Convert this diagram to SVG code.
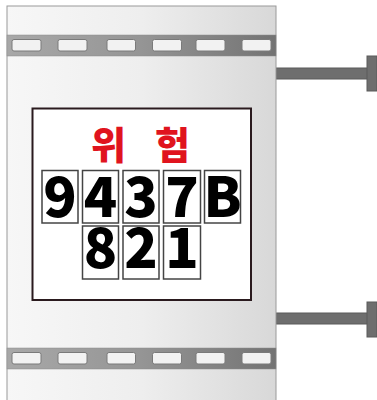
<svg xmlns="http://www.w3.org/2000/svg" width="377" height="400" viewBox="0 0 377 400">
<defs>
<linearGradient id="body" x1="0" y1="0" x2="1" y2="0">
<stop offset="0" stop-color="#f7f7f7"/>
<stop offset="0.5" stop-color="#eeeeee"/>
<stop offset="1" stop-color="#d8d8d8"/>
</linearGradient>
<linearGradient id="band" x1="0" y1="0" x2="1" y2="0">
<stop offset="0" stop-color="#a8a8a8"/>
<stop offset="0.5" stop-color="#959595"/>
<stop offset="1" stop-color="#737373"/>
</linearGradient>
<style>
.hole{fill:#f2f2f2;stroke:#7a7a7a;stroke-width:1}
.bracket{fill:#6e6e6e;stroke:#5a5a5a;stroke-width:1}
.box{fill:#fff;stroke:#444;stroke-width:1.5}
.dig{font-family:"Noto Sans CJK KR","Noto Sans",sans-serif;font-weight:900;font-size:55px;fill:#000;text-anchor:middle}
.warn{font-family:"Noto Sans CJK KR",sans-serif;font-weight:900;font-size:38px;fill:#e0141e;text-anchor:middle}
</style>
</defs>
<g id="brackets">
<rect class="bracket" x="276" y="68" width="92" height="11"/>
<rect class="bracket" x="367" y="56" width="10" height="35"/>
<rect class="bracket" x="276" y="313" width="92" height="11"/>
<rect class="bracket" x="367" y="302" width="10" height="35"/>
</g>
<g id="cylinder">
<rect x="7" y="6" width="269" height="396" fill="url(#body)" stroke="#9a9a9a" stroke-width="1"/>
</g>
<g id="band-top">
<rect x="7" y="35" width="269" height="21" fill="url(#band)" stroke="#8a8a8a" stroke-width="0.5"/>
<rect class="hole" x="12" y="39.5" width="29" height="11.5" rx="2"/>
<rect class="hole" x="58" y="39.5" width="29" height="11.5" rx="2"/>
<rect class="hole" x="107" y="39.5" width="28.5" height="11.5" rx="2"/>
<rect class="hole" x="152.5" y="39.5" width="29" height="11.5" rx="2"/>
<rect class="hole" x="196" y="39.5" width="29" height="11.5" rx="2"/>
<rect class="hole" x="242" y="39.5" width="29" height="11.5" rx="2"/>
</g>
<g id="band-bottom">
<rect x="7" y="348" width="269" height="21" fill="url(#band)" stroke="#8a8a8a" stroke-width="0.5"/>
<rect class="hole" x="12" y="352.5" width="29" height="11.5" rx="2"/>
<rect class="hole" x="58" y="352.5" width="29" height="11.5" rx="2"/>
<rect class="hole" x="107" y="352.5" width="28.5" height="11.5" rx="2"/>
<rect class="hole" x="152.5" y="352.5" width="29" height="11.5" rx="2"/>
<rect class="hole" x="196" y="352.5" width="29" height="11.5" rx="2"/>
<rect class="hole" x="242" y="352.5" width="29" height="11.5" rx="2"/>
</g>
<g id="sign">
<rect x="32.5" y="108.5" width="218.5" height="191.5" fill="#fff" stroke="#2a1a1e" stroke-width="2"/>
<text class="warn" x="108.5" y="159">위</text>
<text class="warn" x="172.5" y="159">험</text>
</g>
<g id="digits">
<rect class="box" x="42" y="170.5" width="36" height="52.5"/>
<rect class="box" x="82.5" y="170.5" width="36" height="52.5"/>
<rect class="box" x="123" y="170.5" width="36" height="52.5"/>
<rect class="box" x="163.5" y="170.5" width="37" height="52.5"/>
<rect class="box" x="204.5" y="170.5" width="36" height="52.5"/>
<rect class="box" x="82.5" y="226" width="36" height="53"/>
<rect class="box" x="123" y="226" width="36" height="53"/>
<rect class="box" x="163.5" y="226" width="37" height="53"/>
<text class="dig" x="60" y="217">9</text>
<text class="dig" x="100.5" y="217">4</text>
<text class="dig" x="141" y="217">3</text>
<text class="dig" x="182" y="217">7</text>
<text class="dig" x="222.5" y="217">B</text>
<text class="dig" x="100.5" y="268">8</text>
<text class="dig" x="141" y="268">2</text>
<text class="dig" x="182" y="268">1</text>
</g>
</svg>
